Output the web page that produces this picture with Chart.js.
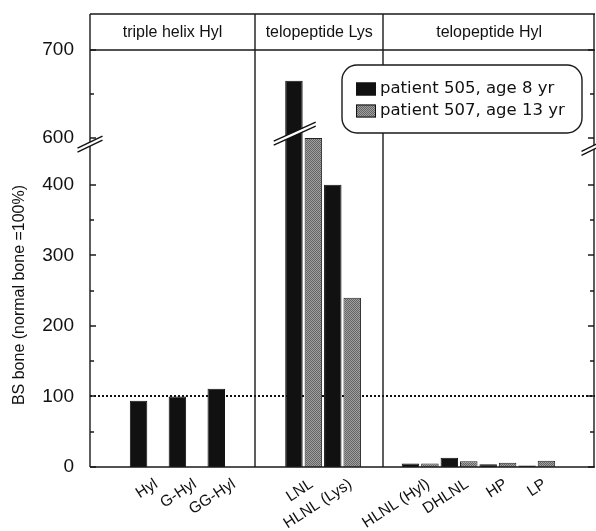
<!DOCTYPE html>
<html>
<head>
<meta charset="utf-8">
<script src="https://cdn.jsdelivr.net/npm/chart.js@4"></script>
<style>
  body { margin: 0; background: #fff; }
  #wrap { width: 596px; height: 531px; }
</style>
</head>
<body>
<div id="wrap"><canvas id="mygraph"></canvas></div>
<script>
const categories = ['', 'Hyl', 'G-Hyl', 'GG-Hyl', '', 'LNL', 'HLNL (Lys)', '', 'HLNL (Hyl)', 'DHLNL', 'HP', 'LP', ''];
const patient505 = [null, 94, 100, 111, null, 665, 400, null, 5, 13, 4, 2, null];
const patient507 = [null, null, null, null, null, 600, 240, null, 5, 8, 6, 9, null];
const seriesNames = ['patient 505, age 8 yr', 'patient 507, age 13 yr'];
const panelNames = ['triple helix Hyl', 'telopeptide Lys', 'telopeptide Hyl'];
const panelEdges = [-0.5, 3.75, 7.05, 12.5]; // category units
const yTicks = [0, 50, 100, 150, 200, 250, 300, 350, 400, 600, 650, 700];
const normalLevel = 100;
const yTitle = 'BS bone (normal bone =100%)';

// broken y axis: value knots -> fraction of plot height
const knotVals = [0, 455, 595, 700];
const knotFracs = [0, 0.7698, 0.7784, 1];
const breakAt = 525;

let toFrac = v => {
  for (let i = 1; i < knotVals.length; i++) {
    if (v <= knotVals[i] || i === knotVals.length - 1) {
      const t = (v - knotVals[i - 1]) / (knotVals[i] - knotVals[i - 1]);
      return knotFracs[i - 1] + t * (knotFracs[i] - knotFracs[i - 1]);
    }
  }
};
let fromFrac = f => {
  for (let i = 1; i < knotFracs.length; i++) {
    if (f <= knotFracs[i] || i === knotFracs.length - 1) {
      const t = (f - knotFracs[i - 1]) / (knotFracs[i] - knotFracs[i - 1]);
      return knotVals[i - 1] + t * (knotVals[i] - knotVals[i - 1]);
    }
  }
};

class BrokenScale extends Chart.LinearScale {
  getPixelForValue(v) {
    return this.bottom - toFrac(v) * (this.bottom - this.top);
  }
  getValueForPixel(p) {
    return fromFrac((this.bottom - p) / (this.bottom - this.top));
  }
}
BrokenScale.id = 'broken';
BrokenScale.defaults = Chart.LinearScale.defaults;
Chart.register(BrokenScale);

let makeGrey = () => {
  const c = document.createElement('canvas');
  c.width = 4; c.height = 4;
  const g = c.getContext('2d');
  g.fillStyle = '#a0a0a0';
  g.fillRect(0, 0, 4, 4);
  g.fillStyle = '#646464';
  for (let x = 0; x < 4; x++)
    for (let y = 0; y < 4; y++)
      if ((x + y) % 2 === 0) g.fillRect(x, y, 1, 1);
  return g.createPattern(c, 'repeat');
};
const grey = makeGrey();

let drawBreak = (ctx, cx, cy, half, k, gap) => {
  ctx.save();
  ctx.fillStyle = '#fff';
  ctx.beginPath();
  ctx.moveTo(cx - half, cy + half * k - gap / 2);
  ctx.lineTo(cx + half, cy - half * k - gap / 2);
  ctx.lineTo(cx + half, cy - half * k + gap / 2);
  ctx.lineTo(cx - half, cy + half * k + gap / 2);
  ctx.closePath();
  ctx.fill();
  ctx.strokeStyle = '#111';
  ctx.lineWidth = 1.4;
  [-gap / 2, gap / 2].forEach(d => {
    ctx.beginPath();
    ctx.moveTo(cx - half, cy + half * k + d);
    ctx.lineTo(cx + half, cy - half * k + d);
    ctx.stroke();
  });
  ctx.restore();
};

const decor = {
  id: 'decor',
  beforeDatasetsDraw(chart) {
    const {ctx, chartArea: a, scales: {y}} = chart;
    const yy = Math.round(y.getPixelForValue(normalLevel));
    ctx.save();
    ctx.strokeStyle = '#111';
    ctx.lineWidth = 2;
    ctx.setLineDash([2, 2]);
    ctx.beginPath();
    ctx.moveTo(a.left, yy);
    ctx.lineTo(a.right, yy);
    ctx.stroke();
    ctx.restore();
  },
  afterDatasetsDraw(chart) {
    const {ctx, chartArea: a, scales: {x, y}} = chart;
    const top = a.top - 36;
    ctx.save();
    ctx.strokeStyle = '#1a1a1a';
    ctx.lineWidth = 1.4;
    // frame
    ctx.beginPath();
    ctx.moveTo(a.left, top); ctx.lineTo(a.right, top);
    ctx.moveTo(a.left, a.top); ctx.lineTo(a.right, a.top);
    ctx.moveTo(a.left, a.bottom); ctx.lineTo(a.right, a.bottom);
    panelEdges.forEach(e => {
      const px = Math.round(x.getPixelForValue(e));
      const xx = Math.min(Math.max(px, a.left), a.right - 1);
      ctx.moveTo(xx, top); ctx.lineTo(xx, a.bottom);
    });
    ctx.stroke();
    // inward ticks on both sides
    yTicks.forEach(v => {
      const yy = Math.round(y.getPixelForValue(v));
      const len = v % 100 === 0 ? 6 : 4;
      ctx.beginPath();
      ctx.moveTo(a.left, yy); ctx.lineTo(a.left + len, yy);
      ctx.moveTo(a.right - 1, yy); ctx.lineTo(a.right - 1 - len, yy);
      ctx.stroke();
    });
    // header labels
    ctx.fillStyle = '#111';
    ctx.font = '16px "Liberation Sans", Arial, sans-serif';
    ctx.textAlign = 'center';
    ctx.textBaseline = 'middle';
    panelNames.forEach((name, i) => {
      const cx = (x.getPixelForValue(panelEdges[i]) + x.getPixelForValue(panelEdges[i + 1])) / 2;
      ctx.fillText(name, cx, top + 19);
    });
    ctx.restore();
    // axis breaks
    const by = y.getPixelForValue(breakAt);
    drawBreak(ctx, a.left, by, 12.5, 0.48, 4);
    drawBreak(ctx, a.right - 1, by + 3, 12.5, 0.5, 4);
    // break across the LNL bars
    drawBreak(ctx, x.getPixelForValue(4.77), y.getPixelForValue(605), 21, 0.45, 4);
  },
  afterDraw(chart) {
    const {ctx} = chart;
    ctx.save();
    // legend box
    const lx = 342, ly = 65, lw = 240, lh = 68, r = 15;
    ctx.fillStyle = '#fff';
    ctx.strokeStyle = '#1a1a1a';
    ctx.lineWidth = 1.4;
    ctx.beginPath();
    ctx.roundRect(lx, ly, lw, lh, r);
    ctx.fill();
    ctx.stroke();
    ctx.font = '16.5px "DejaVu Sans", sans-serif';
    ctx.textBaseline = 'middle';
    ctx.textAlign = 'left';
    chart.data.datasets.forEach((ds, i) => {
      const ry = ly + 24 + i * 22;
      ctx.fillStyle = ds.backgroundColor;
      ctx.fillRect(lx + 14, ry - 6.5, 20, 13);
      ctx.strokeStyle = '#111';
      ctx.lineWidth = 1;
      ctx.strokeRect(lx + 14.5, ry - 6, 19, 12);
      ctx.fillStyle = '#111';
      ctx.fillText(ds.label, lx + 38, ry);
    });
    // y title
    ctx.translate(20, 295);
    ctx.rotate(-Math.PI / 2);
    ctx.textAlign = 'center';
    ctx.font = '16px "Liberation Sans", Arial, sans-serif';
    ctx.fillText(yTitle, 0, 0);
    ctx.restore();
  }
};

const ctx = document.getElementById('mygraph').getContext('2d');
new Chart(ctx, {
  type: 'bar',
  data: {
    labels: categories,
    datasets: [{
      label: seriesNames[0],
      data: patient505,
      backgroundColor: '#111',
      borderColor: '#111',
      borderWidth: 1
    }, {
      label: seriesNames[1],
      data: patient507,
      backgroundColor: grey,
      borderColor: '#222',
      borderWidth: 1
    }]
  },
  options: {
    responsive: true,
    maintainAspectRatio: false,
    animation: false,
    layout: { padding: { top: 50, right: 1, left: 0, bottom: 0 } },
    plugins: {
      legend: { display: false },
      tooltip: { enabled: false }
    },
    datasets: {
      bar: { categoryPercentage: 1, barPercentage: 0.9 }
    },
    scales: {
      x: {
        type: 'category',
        offset: true,
        grid: { display: false },
        border: { display: false },
        ticks: {
          autoSkip: false,
          minRotation: 33,
          maxRotation: 33,
          padding: 0,
          labelOffset: 8,
          color: '#111',
          font: { family: '"Liberation Sans", Arial, sans-serif', size: 15.5 }
        },
        afterFit: s => { s.height = 64; }
      },
      y: {
        type: 'broken',
        min: 0,
        max: 700,
        grid: { display: false },
        border: { display: false },
        afterBuildTicks: s => { s.ticks = yTicks.map(v => ({ value: v })); },
        ticks: {
          autoSkip: false,
          padding: 8,
          color: '#111',
          font: { family: '"Liberation Sans", Arial, sans-serif', size: 19 },
          callback: v => (v % 100 === 0 ? String(v) : '')
        },
        afterFit: s => { s.width = 90; }
      }
    }
  },
  plugins: [decor]
});
</script>
</body>
</html>
